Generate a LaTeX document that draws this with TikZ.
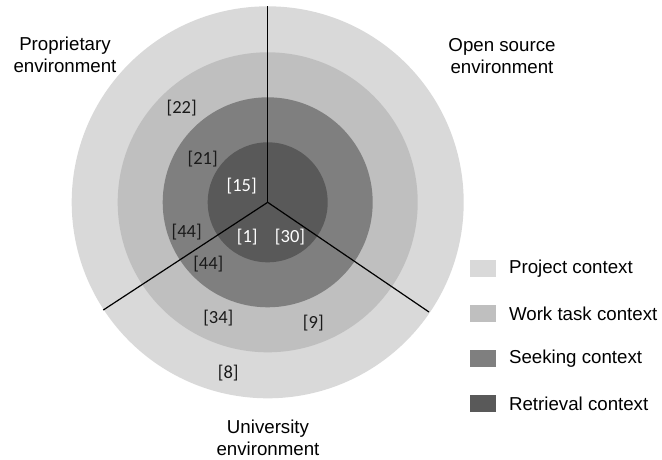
\documentclass[tikz,border=0pt]{standalone}
\usepackage{fontspec}
\setmainfont{Liberation Sans}
\newfontfamily\refsfont{Carlito}
\usetikzlibrary{positioning}
\definecolor{projectc}{HTML}{D9D9D9}
\definecolor{worktaskc}{HTML}{BFBFBF}
\definecolor{seekingc}{HTML}{7F7F7F}
\definecolor{retrievalc}{HTML}{595959}
\definecolor{refc}{HTML}{1A1A1A}

\begin{document}
\begin{tikzpicture}[x=1pt,y=-1pt,node distance=28pt,
  font=\fontsize{18.7}{22.5}\selectfont,
  env/.style={align=center,inner sep=0pt},
  ref/.style={font=\refsfont\fontsize{18.5}{20}\selectfont,text=refc,inner sep=0pt},
  refw/.style={ref,text=white},
  key/.style={minimum width=25.7pt,minimum height=16.7pt,inner sep=0pt},
  keytext/.style={inner sep=0pt,anchor=west}]
  \useasboundingbox (0,0) rectangle (662,459);

  \coordinate (c) at (267.7,202.3);
  \coordinate (top) at (267.7,6.3);
  \coordinate (ll) at (103.3,310);
  \coordinate (lr) at (429,312);

  % the four contexts
  \fill[projectc] (c) circle (196pt);
  \fill[worktaskc] (c) circle (150pt);
  \fill[seekingc] (c) circle (105pt);
  \fill[retrievalc] (c) circle (60pt);

  % environments
  \draw[line width=1.2pt] (c) -- (top);
  \draw[line width=1.2pt] (c) -- (ll);
  \draw[line width=1.2pt] (c) -- (lr);

  \node[env] (prop) at (65,55) {Proprietary\\environment};
  \node[env] (open) at (502,56) {Open source\\environment};
  \node[env] (univ) at (268,438) {University\\environment};

  % references
  \node[ref] (r22) at (181.7,108.3) {[22]};
  \node[ref] (r21) at (202.7,159.3) {[21]};
  \node[refw] (r15) at (241.7,185.7) {[15]};
  \node[ref] (r44a) at (186.7,232.3) {[44]};
  \node[refw] (r1) at (247.3,236.7) {[1]};
  \node[refw] (r30) at (290,236.7) {[30]};
  \node[ref] (r44b) at (208.3,264.3) {[44]};
  \node[ref] (r34) at (218.3,318.3) {[34]};
  \node[ref] (r9) at (313.3,323.3) {[9]};
  \node[ref] (r8) at (228.3,373.3) {[8]};

  % legend
  \node[key,fill=projectc] (k1) at (482.8,268.3) {};
  \node[key,fill=worktaskc] (k2) [below = of k1] {};
  \node[key,fill=seekingc] (k3) [below = of k2] {};
  \node[key,fill=retrievalc] (k4) [below = of k3] {};
  \node[keytext] (t1) [right = 13pt of k1] {Project context};
  \node[keytext] (t2) [right = 13pt of k2] {Work task context};
  \node[keytext] (t3) [right = 13pt of k3] {Seeking context};
  \node[keytext] (t4) [right = 13pt of k4] {Retrieval context};
\end{tikzpicture}
\end{document}
